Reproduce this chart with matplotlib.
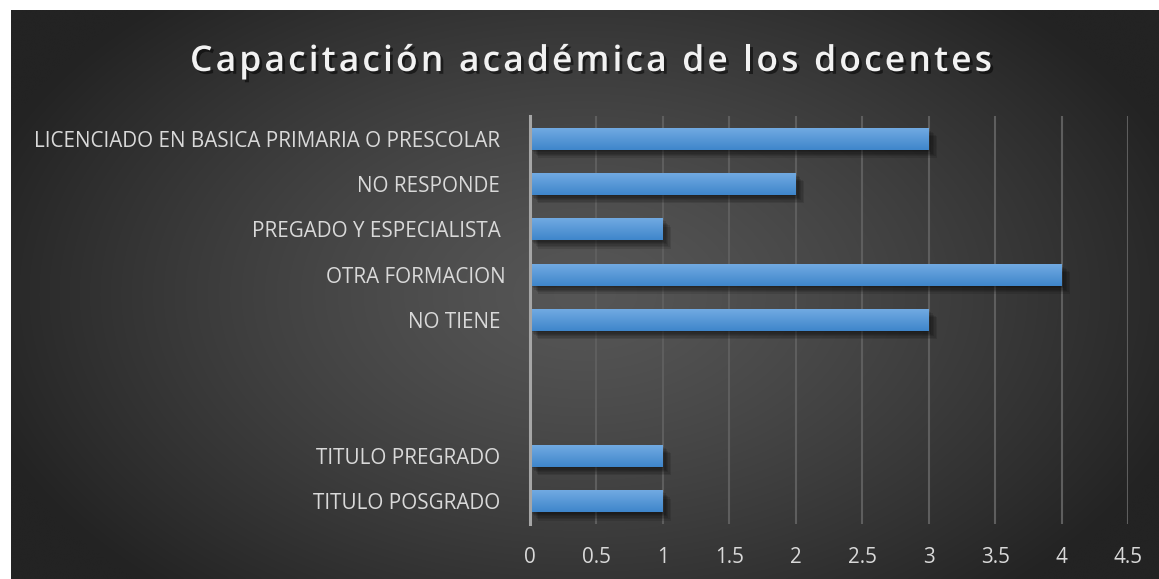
import matplotlib
matplotlib.use("Agg")
import matplotlib.pyplot as plt
import matplotlib.patheffects as pe
import numpy as np

# datos (de arriba hacia abajo)
categorias = [
    "LICENCIADO EN BASICA PRIMARIA O PRESCOLAR ",
    "NO RESPONDE ",
    "PREGADO Y ESPECIALISTA ",
    "OTRA FORMACION",
    "NO TIENE ",
    "",
    " ",
    "TITULO PREGRADO ",
    "TITULO POSGRADO ",
]
valores = [3, 2, 1, 4, 3, 0, 0, 1, 1]
ticks_x = [0, 0.5, 1, 1.5, 2, 2.5, 3, 3.5, 4, 4.5]
titulo = "Capacitación académica de los docentes"

W, H = 1159, 579
fig = plt.figure(figsize=(W / 100, H / 100), dpi=100, facecolor="white")

# fondo con degradado radial
bg = fig.add_axes([11 / W, 0, (W - 11) / W, (H - 10) / H])
bg.set_axis_off()
xx, yy = np.meshgrid(np.linspace(-1, 1, 600), np.linspace(-1, 1, 300))
r = np.sqrt((xx * 0.95) ** 2 + (yy * 0.75) ** 2)
r = np.clip(r / 1.05, 0, 1)
c0, c1 = np.array([0x56, 0x56, 0x56]) / 255, np.array([0x23, 0x23, 0x23]) / 255
img = c0[None, None, :] * (1 - r[..., None] ** 1.3) + c1[None, None, :] * r[..., None] ** 1.3
bg.imshow(img, aspect="auto", extent=(0, 1, 0, 1), interpolation="bicubic")
bg.set_xlim(0, 1)
bg.set_ylim(0, 1)

# ejes principales
ax = fig.add_axes([530 / W, (H - 524) / H, (1128 - 530) / W, (524 - 116) / H])
ax.patch.set_alpha(0)
y = np.arange(len(categorias))

sombra = [pe.SimplePatchShadow(offset=(d, -d), shadow_rgbFace="black", alpha=0.11)
          for d in (1, 2, 3, 4, 5, 6)]
bars = ax.barh(y, valores, height=0.48, color="#4a8fd4", zorder=3,
               path_effects=sombra + [pe.Normal()])

grad = np.linspace(0, 1, 50)[:, None]
cmap = matplotlib.colors.LinearSegmentedColormap.from_list("azul", ["#71aae2", "#3f86cb"])
for b in bars:
    if b.get_width() <= 0:
        continue
    x0, y0 = b.get_x(), b.get_y()
    ax.imshow(grad, cmap=cmap, aspect="auto", zorder=4,
              extent=(x0, x0 + b.get_width(), y0 + b.get_height(), y0))

ax.set_xlim(0, 4.5)
ax.set_ylim(len(categorias) - 0.5, -0.5)
ax.set_xticks(ticks_x)
ax.set_xticklabels([f"{t:g}" for t in ticks_x])
ax.set_yticks(y)
ax.set_yticklabels(categorias)

ax.grid(axis="x", color="#5e5e5e", linewidth=1.5, zorder=1)
ax.set_axisbelow(True)
for s in ["top", "right", "bottom"]:
    ax.spines[s].set_visible(False)
ax.spines["left"].set_color("#a6a6a6")
ax.spines["left"].set_linewidth(2.2)
ax.spines["left"].set_zorder(5)

ax.tick_params(axis="both", length=0, colors="#d9d9d9", labelsize=14.9)
ax.tick_params(axis="y", pad=17.5)
ax.tick_params(axis="x", pad=16.5)
for lab in ax.get_xticklabels() + ax.get_yticklabels():
    lab.set_fontfamily("Open Sans")

# titulo con espaciado entre letras
estilo = dict(fontsize=25.5, fontweight="semibold", color="#f2f2f2", family="Open Sans")
renderer = fig.canvas.get_renderer()
def ancho(s):
    t = fig.text(0, 0, s, **estilo)
    w = t.get_window_extent(renderer).width
    t.remove()
    return w
ancho_total = 802
natural = ancho(titulo)
extra = (ancho_total - natural) / (len(titulo) - 1)
x_ini = 591 - ancho_total / 2
for i, ch in enumerate(titulo):
    if ch == " ":
        continue
    px = x_ini + (ancho(titulo[:i]) if i else 0) + i * extra
    fig.text(px / W, 1 - 58 / H, ch, ha="left", va="center_baseline", **estilo,
             path_effects=[pe.withSimplePatchShadow(offset=(2, -2), shadow_rgbFace="black", alpha=0.5)])

fig.savefig("out.png", dpi=100, facecolor="white")
